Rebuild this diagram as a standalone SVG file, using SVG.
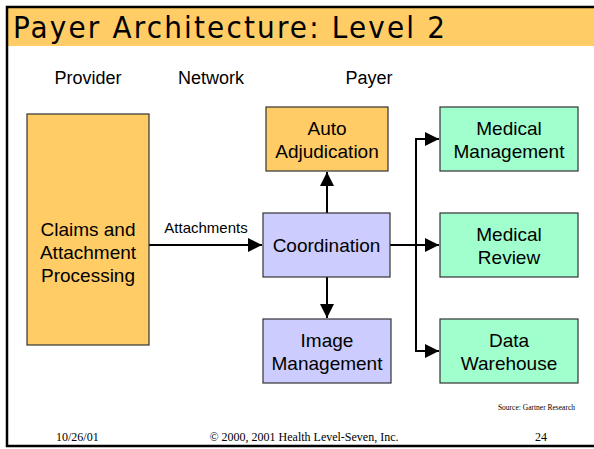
<svg xmlns="http://www.w3.org/2000/svg" width="594" height="449" viewBox="0 0 594 449">
  <style>
    .box { stroke: #333333; stroke-width: 1.2; }
    .orange { fill: #FFCC66; }
    .blue { fill: #CCCCFF; }
    .green { fill: #A0FFCC; }
    .lbl { font-family: "Liberation Sans", Arial, sans-serif; font-size: 19px; fill: #000; text-anchor: middle; }
    .col { font-family: "Liberation Sans", Arial, sans-serif; font-size: 18px; fill: #000; text-anchor: middle; }
    .foot { font-family: "Liberation Serif", "Times New Roman", serif; fill: #000; }
    .wire { fill: none; stroke: #000; stroke-width: 2; }
  </style>
  <defs>
    <marker id="arrow" markerUnits="userSpaceOnUse" markerWidth="16" markerHeight="16" viewBox="0 0 16 16" refX="15" refY="8" orient="auto">
      <path d="M1,1 L15,8 L1,15 Z" fill="#000"/>
    </marker>
  </defs>

  <rect x="0" y="0" width="594" height="449" fill="#ffffff"/>

  <!-- slide frame and title band -->
  <rect x="8" y="8" width="586" height="38" fill="#FFCC66"/>
  <path d="M594,7 H7 V446 H594" fill="none" stroke="#000" stroke-width="2.5"/>
  <text x="13" y="38" font-family="'DejaVu Sans Condensed', 'DejaVu Sans', sans-serif" font-size="31" textLength="432" lengthAdjust="spacing" fill="#000">Payer Architecture:  Level 2</text>

  <!-- column headings -->
  <text class="col" x="88" y="84">Provider</text>
  <text class="col" x="211" y="84">Network</text>
  <text class="col" x="369" y="84">Payer</text>

  <!-- connectors -->
  <g id="connectors">
    <line class="wire" x1="149" y1="245" x2="262" y2="245" marker-end="url(#arrow)"/>
    <text x="206" y="233" font-family="'Liberation Sans', Arial, sans-serif" font-size="15" text-anchor="middle">Attachments</text>
    <line class="wire" x1="327" y1="213" x2="327" y2="172" marker-end="url(#arrow)"/>
    <line class="wire" x1="327" y1="277" x2="327" y2="318" marker-end="url(#arrow)"/>
    <line class="wire" x1="390" y1="245" x2="439" y2="245" marker-end="url(#arrow)"/>
    <polyline class="wire" points="416,245 416,139 439,139" marker-end="url(#arrow)"/>
    <polyline class="wire" points="416,245 416,351 439,351" marker-end="url(#arrow)"/>
  </g>

  <!-- nodes -->
  <g id="claims">
    <rect class="box orange" x="27" y="114" width="122" height="231"/>
    <text class="lbl" x="88" y="236">Claims and</text>
    <text class="lbl" x="88" y="259">Attachment</text>
    <text class="lbl" x="88" y="282">Processing</text>
  </g>
  <g id="auto-adjudication">
    <rect class="box orange" x="266" y="107" width="122" height="64"/>
    <text class="lbl" x="327" y="135">Auto</text>
    <text class="lbl" x="327" y="158">Adjudication</text>
  </g>
  <g id="coordination">
    <rect class="box blue" x="263" y="213" width="127" height="64"/>
    <text class="lbl" x="326.5" y="252">Coordination</text>
  </g>
  <g id="image-management">
    <rect class="box blue" x="263" y="319" width="128" height="64"/>
    <text class="lbl" x="327" y="347">Image</text>
    <text class="lbl" x="327" y="370">Management</text>
  </g>
  <g id="medical-management">
    <rect class="box green" x="440" y="107" width="138" height="64"/>
    <text class="lbl" x="509" y="135">Medical</text>
    <text class="lbl" x="509" y="158">Management</text>
  </g>
  <g id="medical-review">
    <rect class="box green" x="440" y="213" width="138" height="64"/>
    <text class="lbl" x="509" y="241">Medical</text>
    <text class="lbl" x="509" y="264">Review</text>
  </g>
  <g id="data-warehouse">
    <rect class="box green" x="440" y="319" width="138" height="64"/>
    <text class="lbl" x="509" y="347">Data</text>
    <text class="lbl" x="509" y="370">Warehouse</text>
  </g>

  <!-- footer -->
  <text class="foot" x="575" y="410" font-size="7.5" text-anchor="end">Source: Gartner Research</text>
  <text class="foot" x="56" y="441" font-size="12">10/26/01</text>
  <text class="foot" x="304" y="441" font-size="12" text-anchor="middle">© 2000, 2001 Health Level-Seven, Inc.</text>
  <text class="foot" x="541" y="441" font-size="12" text-anchor="middle">24</text>
</svg>
